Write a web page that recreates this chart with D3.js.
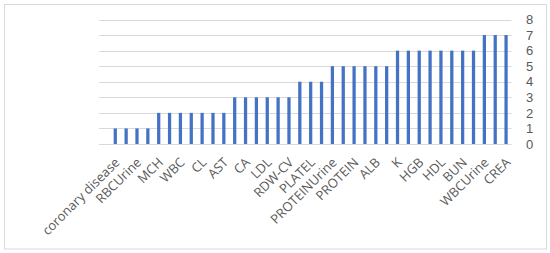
<!DOCTYPE html>
<html>
<head>
<meta charset="utf-8">
<script src="https://d3js.org/d3.v7.min.js"></script>
<style>
body { margin: 0; background: #fff; }
text { font-family: "Open Sans", "Noto Sans", sans-serif; fill: #595959; }
</style>
</head>
<body>
<script>
// one empty slot first, then the 37 bars; only every other name is shown
const labels = ["", "coronary disease", null, "RBCUrine", null, "MCH", null, "WBC", null, "CL", null, "AST",
  null, "CA", null, "LDL", null, "RDW-CV", null, "PLATEL", null, "PROTEINUrine", null, "PROTEIN",
  null, "ALB", null, "K", null, "HGB", null, "HDL", null, "BUN", null, "WBCUrine", null, "CREA"];
const values = [0, 1, 1, 1, 1, 2, 2, 2, 2, 2, 2, 2, 3, 3, 3, 3, 3, 3, 4, 4, 4,
  5, 5, 5, 5, 5, 5, 6, 6, 6, 6, 6, 6, 6, 6, 7, 7, 7];
const yTicks = [0, 1, 2, 3, 4, 5, 6, 7, 8];

const w = 550, h = 253;
const svg = d3.select("body").append("svg").attr("width", w).attr("height", h);

svg.append("rect")
  .attr("x", 4.5).attr("y", 4.5).attr("width", 542).attr("height", 244.5)
  .attr("fill", "#fff").attr("stroke", "#d9d9d9");

const x = d3.scaleBand()
  .domain(values.map((d, i) => i))
  .range([99, 511.5])
  .paddingInner(0.7)
  .paddingOuter(0.35);

const y = d3.scaleLinear().domain([0, 8]).range([144, 19.5]);

// gridlines
svg.append("g").selectAll("line")
  .data(yTicks)
  .join("line")
  .attr("x1", 99).attr("x2", 511.5)
  .attr("y1", d => Math.round(y(d)) + 0.5)
  .attr("y2", d => Math.round(y(d)) + 0.5)
  .attr("stroke", "#d9d9d9");

svg.append("g").selectAll("rect")
  .data(values)
  .join("rect")
  .attr("x", (d, i) => x(i))
  .attr("width", x.bandwidth())
  .attr("y", d => y(d))
  .attr("height", d => y(0) - y(d))
  .attr("fill", "#4472c4");

const yAxis = svg.append("g")
  .attr("transform", "translate(518,0)")
  .call(d3.axisRight(y).tickValues(yTicks).tickSize(0).tickPadding(8).tickFormat(d3.format("d")));
yAxis.select(".domain").remove();
yAxis.selectAll("text")
  .style("font-size", "13px")
  .style("font-family", "'Liberation Sans', Arial, sans-serif");

const xAxis = svg.append("g")
  .attr("transform", "translate(0,144)")
  .call(d3.axisBottom(x).tickSize(0).tickFormat(i => labels[i] || ""));
xAxis.select(".domain").remove();
xAxis.selectAll("text")
  .style("font-size", "13px")
  .style("font-family", null)
  .attr("text-anchor", "end")
  .attr("dy", "0.35em")
  .attr("y", 0)
  .attr("transform", "translate(2,16) rotate(-45)");
</script>
</body>
</html>
